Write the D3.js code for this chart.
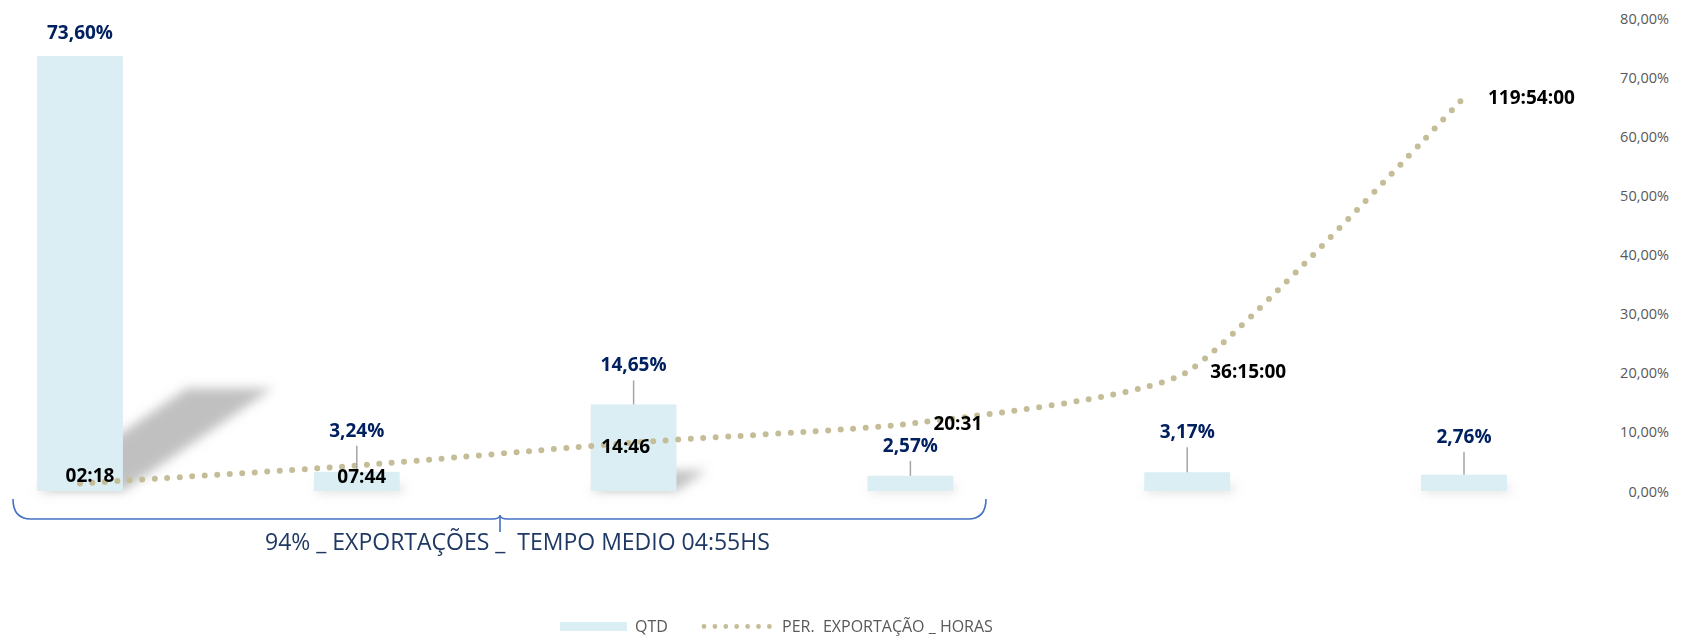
<!DOCTYPE html>
<html><head><meta charset="utf-8">
<script src="https://cdn.jsdelivr.net/npm/d3@7"></script>
<style>body{margin:0;background:#fff} svg{display:block}</style>
</head><body><svg id="c" width="1681" height="636"></svg>
<script>
// ---- data ----
const categories = ["F1","F2","F3","F4","F5","F6"];
const qtdPercent = [73.60, 3.24, 14.65, 2.57, 3.17, 2.76];
const exportTimes = ["02:18","07:44","14:46","20:31","36:15:00","119:54:00"];
const axisTicks = [0,10,20,30,40,50,60,70,80];
const legendLabels = ["QTD","PER.  EXPORTAÇÃO _ HORAS"];
const braceText = "94% _ EXPORTAÇÕES _  TEMPO MEDIO 04:55HS";

// ---- layout (label placement as in original) ----
const barLabelLift = [17, 35, 33, 24, 34, 32];
const timeLabelPos = [
  {dx:10, dy:-1, anchor:"middle"},
  {dx:5, dy:17, anchor:"middle"},
  {dx:-8, dy:10.5, anchor:"middle"},
  {dx:23, dy:6, anchor:"start"},
  {dx:23, dy:6, anchor:"start"},
  {dx:24, dy:6.5, anchor:"start"}
];

const svg = d3.select("#c");
const FONT = "'Open Sans', 'Liberation Sans', sans-serif";
const baseY = 491, topY = 18.2;

const x = d3.scaleBand().domain(categories).range([-58.4, 1602.4]).paddingInner(0.69).paddingOuter(0.345);
const y = d3.scaleLinear().domain([0, 80]).range([baseY, topY]);
const yTime = d3.scaleLinear().domain([0, 144]).range([baseY, topY]); // hidden secondary axis (0..6 days)

const loc = d3.formatLocale({decimal: ",", thousands: ".", grouping: [3], currency: ["R$", ""]});
const fmt2 = loc.format(".2f");
const hours = s => { const p = s.split(":").map(Number); return p[0] + p[1]/60 + (p[2]||0)/3600; };

const bars = categories.map((c,i)=>({c, v:qtdPercent[i], i}));
const pts = categories.map((c,i)=>({c, t:exportTimes[i], h:hours(exportTimes[i]), i}));

// shadow filter
const defs = svg.append("defs");
defs.append("filter").attr("id","blur").attr("x","-50%").attr("y","-50%").attr("width","200%").attr("height","200%")
  .append("feGaussianBlur").attr("stdDeviation", 5.5);

// shadows
svg.append("g").attr("filter","url(#blur)").selectAll("path").data(bars).join("path")
  .attr("d", d => {
    const x0 = x(d.c), x1 = x0 + x.bandwidth();
    const h = (baseY - y(d.v)) * 0.236, s = h * 1.46;
    return `M${x0},${baseY}L${x1},${baseY}L${x1+s},${baseY-h}L${x0+s},${baseY-h}Z`;
  })
  .attr("fill","#9a9a9a").attr("opacity",0.62);

// bars
svg.append("g").selectAll("rect").data(bars).join("rect")
  .attr("x", d => x(d.c)).attr("width", x.bandwidth())
  .attr("y", d => y(d.v)).attr("height", d => baseY - y(d.v))
  .attr("fill", "#DAEEF3");

// line
const cx = c => x(c) + x.bandwidth()/2;
const line = d3.line().x(d => cx(d.c)).y(d => yTime(d.h)).curve(d3.curveCardinal.tension(0.5));
svg.append("path").datum(pts).attr("d", line)
  .attr("fill","none").attr("stroke","#C4BD97").attr("stroke-width",6)
  .attr("stroke-linecap","round").attr("stroke-dasharray","0 12.5");

// leader lines
svg.append("g").selectAll("line").data(bars.filter(d => barLabelLift[d.i] > 20)).join("line")
  .attr("x1", d => cx(d.c)).attr("x2", d => cx(d.c))
  .attr("y1", d => y(d.v) - barLabelLift[d.i] + 9).attr("y2", d => y(d.v))
  .attr("stroke","#A6A6A6").attr("stroke-width",1.5);

// bar labels
svg.append("g").selectAll("text").data(bars).join("text")
  .attr("x", d => cx(d.c)).attr("y", d => y(d.v) - barLabelLift[d.i])
  .attr("text-anchor","middle").attr("font-family",FONT).attr("font-weight",700)
  .attr("font-size",19).attr("fill","#002060")
  .text(d => fmt2(d.v) + "%");

// time labels
svg.append("g").selectAll("text").data(pts).join("text")
  .attr("x", d => cx(d.c) + timeLabelPos[d.i].dx).attr("y", d => yTime(d.h) + timeLabelPos[d.i].dy)
  .attr("text-anchor", d => timeLabelPos[d.i].anchor)
  .attr("font-family",FONT).attr("font-weight",700).attr("font-size",19).attr("fill","#000")
  .text(d => d.t);

// right axis
const ax = svg.append("g").attr("transform","translate(1669,0)")
  .call(d3.axisRight(y).tickValues(axisTicks).tickSize(0).tickPadding(0).tickFormat(v => fmt2(v) + "%"));
ax.select(".domain").remove();
ax.selectAll("text").attr("text-anchor","end").attr("x",0).attr("dy","0.35em")
  .attr("font-family",FONT).attr("font-size",14.5).attr("fill","#595959");

// brace
const bx0 = 13, bx1 = 986, bmid = 500, by = 519;
svg.append("path")
  .attr("d", `M${bx0},${by-20}Q${bx0},${by} ${bx0+18},${by}L${bmid-8},${by}Q${bmid},${by} ${bmid},${by-4}Q${bmid},${by} ${bmid+8},${by}L${bx1-18},${by}Q${bx1},${by} ${bx1},${by-20}M${bmid},${by-4}L${bmid},${by+13}`)
  .attr("fill","none").attr("stroke","#4472C4").attr("stroke-width",1.6);
svg.append("text").attr("x",265).attr("y",550).attr("font-family",FONT).attr("font-size",23)
  .attr("fill","#1F3864").style("white-space","pre").text(braceText);

// legend
const lg = svg.append("g");
lg.append("rect").attr("x",560).attr("y",622).attr("width",67).attr("height",9).attr("fill","#DAEEF3");
lg.append("text").attr("x",635).attr("y",632).attr("font-family",FONT).attr("font-size",16).attr("fill","#595959").text(legendLabels[0]);
lg.append("line").attr("x1",704).attr("x2",770).attr("y1",626.5).attr("y2",626.5)
  .attr("stroke","#C4BD97").attr("stroke-width",4.8).attr("stroke-linecap","round").attr("stroke-dasharray","0 10.9");
lg.append("text").attr("x",782).attr("y",632).attr("font-family",FONT).attr("font-size",16).attr("fill","#595959")
  .style("white-space","pre").text(legendLabels[1]);
</script></body></html>
